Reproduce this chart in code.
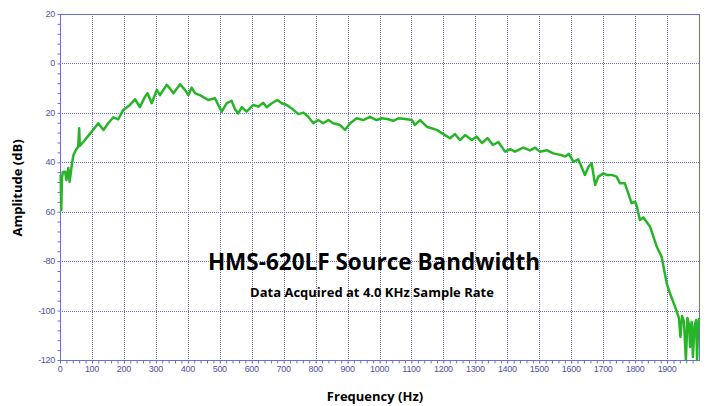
<!DOCTYPE html>
<html lang="en">
  <head>
    <meta charset="UTF-8" />
    <title>HMS-620LF Source Bandwidth</title>
    <script src="https://cdn.jsdelivr.net/npm/d3@7"></script>
    <style>
      body {
        margin: 0;
        background-color: #ffffff;
        font-family: "Liberation Sans", Arial, sans-serif;
      }
    </style>
  </head>
  <body>
    <div id="bandwidth_chart"></div>

    <script>
      // Frequency (Hz) and amplitude (dB)
      const freq = [
        2, 4, 6, 9, 16, 20, 26, 30, 37, 42, 50, 57, 60, 62, 78, 99, 120, 136,
        151, 167, 182, 198, 219, 235, 250, 266, 274, 287, 303, 313, 334, 344,
        355, 376, 391, 402, 412, 423, 438, 464, 485, 506, 522, 537, 548, 558,
        569, 584, 605, 621, 636, 647, 663, 680, 694, 710, 725, 746, 762, 777,
        793, 808, 824, 840, 855, 876, 892, 908, 929, 949, 970, 991, 1007, 1028,
        1043, 1059, 1080, 1101, 1111, 1127, 1148, 1179, 1205, 1221, 1236, 1252,
        1268, 1289, 1304, 1321, 1338, 1355, 1372, 1393, 1409, 1424, 1450, 1471,
        1487, 1502, 1523, 1544, 1570, 1581, 1593, 1607, 1622, 1643, 1654, 1664,
        1675, 1685, 1701, 1711, 1727, 1742, 1753, 1768, 1789, 1800, 1806, 1815,
        1826, 1847, 1868, 1883, 1899, 1909, 1925, 1931, 1937, 1942, 1947, 1953,
        1959, 1964, 1969, 1972, 1977, 1981, 1986, 1991, 1994, 1997, 2000,
      ];
      const amplitude = [
        -45.1, -59.3, -46.4, -43.9, -43.8, -47.2, -42.3, -47.9, -41.1, -37.1,
        -35.0, -33.7, -26.2, -33.4, -31.0, -27.6, -24.2, -26.9, -24.2, -21.8,
        -22.6, -18.8, -16.8, -14.5, -17.7, -13.5, -12.1, -16.1, -10.7, -12.8,
        -8.7, -10.1, -12.1, -8.4, -10.7, -12.8, -9.8, -12.1, -12.8, -14.8,
        -14.1, -19.5, -16.1, -15.1, -18.6, -20.2, -17.7, -19.5, -16.8, -17.5,
        -15.9, -17.7, -16.1, -14.8, -16.1, -16.8, -18.2, -20.5, -19.9, -21.6,
        -24.2, -22.9, -24.2, -22.9, -24.2, -24.9, -26.9, -24.2, -22.2, -22.9,
        -21.6, -22.9, -22.2, -22.6, -23.2, -22.2, -22.5, -22.9, -24.9, -22.9,
        -25.6, -26.9, -29.0, -30.3, -28.6, -31.0, -29.0, -31.0, -29.6, -32.2,
        -30.2, -33.0, -31.8, -35.7, -34.7, -35.7, -34.1, -35.2, -34.1, -35.7,
        -35.1, -36.4, -37.1, -37.7, -36.6, -39.8, -38.8, -45.1, -41.8, -40.4,
        -49.2, -45.8, -44.5, -45.1, -45.1, -45.8, -48.5, -48.5, -56.5, -55.9,
        -58.1, -63.3, -62.3, -66.1, -74.2, -78.2, -89.0, -93.0, -98.4, -100.6,
        -103.0, -110.7, -102.2, -104.6, -120, -103.0, -105.8, -114.7, -104.6,
        -118.8, -106.2, -103.8, -120, -107.9, -103,
      ];

      const xTicks = d3.range(0, 2000, 100);
      const yTicks = [20, 0, -20, -40, -60, -80, -100, -120];
      // the source plot drops the minus sign on the first three negatives
      const yTickLabels = ["20", "0", "20", "40", "60", "-80", "-100", "-120"];

      const titleText = "HMS-620LF Source Bandwidth";
      const subtitleText = "Data Acquired at 4.0 KHz Sample Rate";

      plotBandwidth();

      function plotBandwidth() {
        const W = 706;
        const H = 406;
        const margin = { top: 14, right: 7, bottom: 46, left: 60 };
        const gridColor = "#6d6dd6";
        const labelColor = "#5050a8";
        const textFont = '"Open Sans", "Noto Sans", sans-serif';

        const svg = d3
          .select("#bandwidth_chart")
          .append("svg")
          .attr("width", W)
          .attr("height", H)
          .style("display", "block");

        svg.append("rect").attr("width", W).attr("height", H).attr("fill", "#fff");

        const x = d3
          .scaleLinear()
          .domain([0, 2000])
          .range([margin.left, W - margin.right]);
        const y = d3
          .scaleLinear()
          .domain([20, -120])
          .range([margin.top, H - margin.bottom]);

        // dotted grid
        const grid = svg.append("g").attr("stroke", gridColor).attr("stroke-width", 1).attr("stroke-dasharray", "1,1");
        grid
          .selectAll("line.v")
          .data(xTicks.filter((d) => d > 0))
          .join("line")
          .attr("x1", (d) => Math.round(x(d)) + 0.5)
          .attr("x2", (d) => Math.round(x(d)) + 0.5)
          .attr("y1", y(20))
          .attr("y2", y(-120) + 3);
        grid
          .selectAll("line.h")
          .data(yTicks.filter((d) => d < 20 && d > -120))
          .join("line")
          .attr("y1", (d) => Math.round(y(d)) + 0.5)
          .attr("y2", (d) => Math.round(y(d)) + 0.5)
          .attr("x1", x(0))
          .attr("x2", x(2000));

        // frame
        svg
          .append("rect")
          .attr("x", Math.round(x(0)) + 0.5)
          .attr("y", Math.round(y(20)) + 0.5)
          .attr("width", Math.round(x(2000) - x(0)))
          .attr("height", Math.round(y(-120) - y(20)))
          .attr("fill", "none")
          .attr("stroke", gridColor)
          .attr("stroke-width", 1);

        // x axis with minor ticks
        const xAxis = svg
          .append("g")
          .attr("transform", `translate(0, ${Math.round(y(-120)) + 0.5})`)
          .call(
            d3
              .axisBottom(x)
              .tickValues(d3.range(0, 2000, 20))
              .tickSize(3)
              .tickFormat("")
          );
        xAxis.select(".domain").remove();
        xAxis.selectAll("line").attr("stroke", gridColor);

        svg
          .append("g")
          .selectAll("text")
          .data(xTicks)
          .join("text")
          .attr("x", (d) => x(d))
          .attr("y", y(-120) + 12)
          .attr("text-anchor", "middle")
          .attr("fill", labelColor)
          .style("font-size", "9px")
          .style("letter-spacing", "-0.3px")
          .text((d) => d);

        // y axis with minor ticks
        const yAxis = svg
          .append("g")
          .attr("transform", `translate(${Math.round(x(0)) + 0.5}, 0)`)
          .call(
            d3
              .axisLeft(y)
              .tickValues(d3.range(20, -121, -4))
              .tickSize(3)
              .tickFormat("")
          );
        yAxis.select(".domain").remove();
        yAxis.selectAll("line").attr("stroke", gridColor);

        svg
          .append("g")
          .selectAll("text")
          .data(yTicks)
          .join("text")
          .attr("x", x(0) - 5)
          .attr("y", (d) => y(d) + 3)
          .attr("text-anchor", "end")
          .attr("fill", labelColor)
          .style("font-size", "9px")
          .style("letter-spacing", "-0.3px")
          .text((d, i) => yTickLabels[i]);

        // response curve
        const pts = freq.map((f, i) => [f, amplitude[i]]);
        svg
          .append("path")
          .datum(pts)
          .attr("fill", "none")
          .attr("stroke", "#27b427")
          .attr("stroke-width", 2.5)
          .attr("stroke-linejoin", "round")
          .attr(
            "d",
            d3
              .line()
              .x((d) => x(d[0]))
              .y((d) => y(d[1]))
          );

        // titles
        svg
          .append("text")
          .attr("x", 374)
          .attr("y", 270)
          .attr("text-anchor", "middle")
          .style("font-family", textFont)
          .style("font-weight", "700")
          .style("font-size", "22.5px")
          .attr("fill", "#000")
          .text(titleText);

        svg
          .append("text")
          .attr("x", 372)
          .attr("y", 297)
          .attr("text-anchor", "middle")
          .style("font-family", textFont)
          .style("font-weight", "700")
          .style("font-size", "13px")
          .attr("fill", "#000")
          .text(subtitleText);

        svg
          .append("text")
          .attr("x", 375)
          .attr("y", 401)
          .attr("text-anchor", "middle")
          .style("font-family", textFont)
          .style("font-weight", "700")
          .style("font-size", "13px")
          .attr("fill", "#000")
          .text("Frequency (Hz)");

        svg
          .append("text")
          .attr("transform", "translate(22, 188) rotate(-90)")
          .attr("text-anchor", "middle")
          .style("font-family", textFont)
          .style("font-weight", "700")
          .style("font-size", "13px")
          .attr("fill", "#000")
          .text("Amplitude (dB)");
      }
    </script>
  </body>
</html>
